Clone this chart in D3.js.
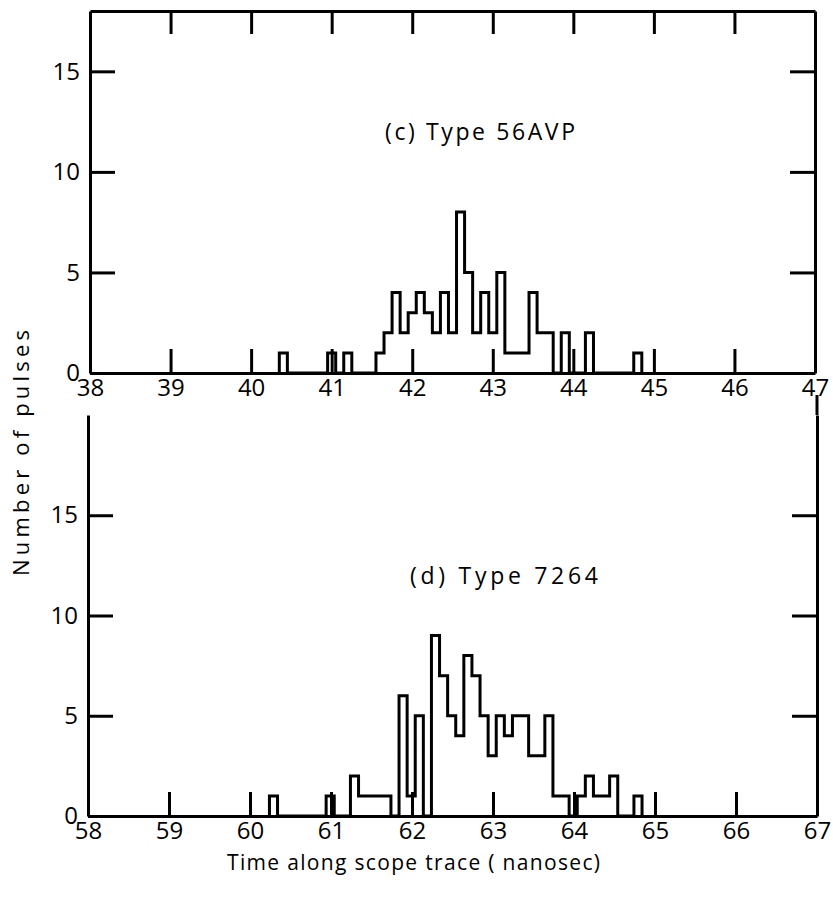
<!DOCTYPE html>
<html>
<head>
<meta charset="utf-8">
<script src="https://cdn.jsdelivr.net/npm/d3@7"></script>
<style>
body { margin: 0; background: #fff; }
text { font-family: "Open Sans", sans-serif; fill: #000; }
</style>
</head>
<body>
<script>
// bin width of both histograms (nanosec)
const binWidth = 0.1

// (c) Type 56AVP : left edge of first bin and counts per bin
const topStart = 40.35
const topCounts = [1, 0, 0, 0, 0, 0, 1, 0, 1, 0, 0, 0,
    1, 2, 4, 2, 3, 4, 3, 2, 4, 2, 8, 5, 2, 4, 2, 5, 1, 1, 1, 4, 2, 2, 0, 2, 0, 0, 2,
    0, 0, 0, 0, 0, 1]

// (d) Type 7264
const bottomStart = 60.24
const bottomCounts = [1, 0, 0, 0, 0, 0, 0, 1, 0, 0, 2, 1, 1, 1, 1, 0,
    6, 1, 5, 0, 9, 7, 5, 4, 8, 7, 5, 3, 5, 4, 5, 5, 3, 3, 5, 1, 1, 0, 1, 2, 1, 1, 2,
    0, 0, 1]

const topTicks = [38, 39, 40, 41, 42, 43, 44, 45, 46, 47]
const bottomTicks = [58, 59, 60, 61, 62, 63, 64, 65, 66, 67]
const yTicks = [0, 5, 10, 15]

const W = 833, H = 899
const svg = d3.select('body').append('svg')
    .attr('width', W)
    .attr('height', H)

const panels = [
    {
        label: '(c) Type 56AVP', start: topStart, counts: topCounts, ticks: topTicks,
        xr: [90, 815], yMax: 18, yr: [373, 11], topBorder: true, pad: 6,
        labelX: 385, labelY: 140, labelLen: 190
    },
    {
        label: '(d) Type 7264', start: bottomStart, counts: bottomCounts, ticks: bottomTicks,
        xr: [88, 817], yMax: 20, yr: [816, 415], topBorder: false, pad: 6,
        labelX: 410, labelY: 584, labelLen: 188
    }
]

function styleAxis(g) {
    g.selectAll('.domain').attr('stroke', '#000').attr('stroke-width', 3)
    g.selectAll('.tick line').attr('stroke', '#000').attr('stroke-width', 3)
    g.attr('font-size', 24).attr('font-family', '"Open Sans", sans-serif')
}

panels.forEach(p => {
    let x = d3.scaleLinear().domain([p.ticks[0], p.ticks[p.ticks.length - 1]]).range(p.xr)
    let y = d3.scaleLinear().domain([0, p.yMax]).range(p.yr)
    let g = svg.append('g')

    // histogram outline
    let pts = [[p.start, 0]]
    p.counts.forEach((c, i) => pts.push([p.start + i * binWidth, c]))
    pts.push([p.start + p.counts.length * binWidth, 0])

    let line = d3.line()
        .x(d => x(d[0]))
        .y(d => y(d[1]))
        .curve(d3.curveStepAfter)

    g.append('path')
        .attr('d', line(pts))
        .attr('fill', 'none')
        .attr('stroke', '#000')
        .attr('stroke-width', 3)
        .attr('stroke-linejoin', 'miter')

    // axes
    g.append('g')
        .attr('transform', 'translate(0,' + p.yr[0] + ')')
        .call(d3.axisBottom(x).tickValues(p.ticks).tickSize(-24).tickSizeOuter(0).tickPadding(p.pad).tickFormat(d3.format('d')))
        .call(styleAxis)

    g.append('g')
        .attr('transform', 'translate(' + p.xr[0] + ',0)')
        .call(d3.axisLeft(y).tickValues(yTicks).tickSize(-25).tickSizeOuter(0).tickPadding(10))
        .call(styleAxis)

    g.append('g')
        .attr('transform', 'translate(' + p.xr[1] + ',0)')
        .call(d3.axisRight(y).tickValues(yTicks.slice(1)).tickSize(-25).tickSizeOuter(0).tickFormat(''))
        .call(styleAxis)

    if (p.topBorder) {
        g.append('g')
            .attr('transform', 'translate(0,' + p.yr[1] + ')')
            .call(d3.axisTop(x).tickValues(p.ticks.slice(1, -1)).tickSize(-23).tickSizeOuter(0).tickFormat(''))
            .call(styleAxis)
    } else {
        // right border continues up to just under the "47" label
        g.append('line')
            .attr('x1', p.xr[1]).attr('x2', p.xr[1])
            .attr('y1', p.yr[1] - 20).attr('y2', p.yr[1])
            .attr('stroke', '#000').attr('stroke-width', 3)
    }

    g.append('text')
        .attr('x', p.labelX)
        .attr('y', p.labelY)
        .attr('font-size', 23)
        .attr('textLength', p.labelLen)
        .attr('lengthAdjust', 'spacing')
        .text(p.label)
})

// axis titles
svg.append('text')
    .attr('transform', 'translate(29,453) rotate(-90)')
    .attr('text-anchor', 'middle')
    .attr('font-size', 22)
    .attr('textLength', 246)
    .attr('lengthAdjust', 'spacing')
    .text('Number of pulses')

svg.append('text')
    .attr('x', 227)
    .attr('y', 870)
    .attr('font-size', 21)
    .attr('textLength', 373)
    .attr('lengthAdjust', 'spacing')
    .text('Time along scope trace ( nanosec)')
</script>
</body>
</html>
